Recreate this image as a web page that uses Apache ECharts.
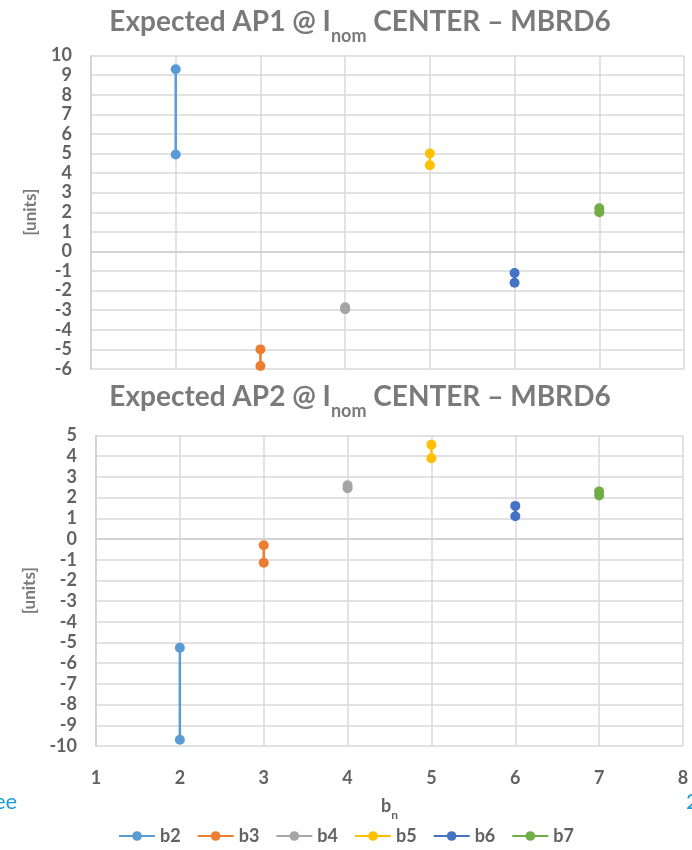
<!DOCTYPE html>
<html><head><meta charset="utf-8">
<script src="https://cdn.jsdelivr.net/npm/echarts@6/dist/echarts.min.js"></script>
<style>html,body{margin:0;padding:0;background:#fff}#c{width:692px;height:850px}</style>
</head><body><div id="c"></div>
<script>
const seriesNames = ['b2','b3','b4','b5','b6','b7'];
const seriesX = [2,3,4,5,6,7];
const colors = ['#5b9bd5','#ed7d31','#a5a5a5','#ffc000','#4472c4','#70ad47'];
// AP1 values (two points per harmonic)
const ap1 = [[9.3,4.95],[-5.0,-5.85],[-2.85,-2.95],[5.0,4.4],[-1.1,-1.6],[2.2,2.0]];
// AP2 values
const ap2 = [[-5.25,-9.7],[-0.3,-1.15],[2.6,2.45],[4.55,3.9],[1.6,1.1],[2.3,2.1]];
const xTicks = [1,2,3,4,5,6,7,8];
const yTicksTop = [-6,10];
const yTicksBottom = [-10,5];

const FONT = 'Lato';
const TXT = '#626262';
const labelStyle = {color:TXT, fontFamily:FONT, fontWeight:'bold', fontSize:18};
const gridLine = {lineStyle:{color:'#d9d9d9', width:1.5}};

function mkSeries(vals, idx){
  return seriesNames.map((n,i)=>({
    name:n, type:'line', xAxisIndex:idx, yAxisIndex:idx,
    data: vals[i].map(v=>[seriesX[i], v]),
    symbol:'circle', symbolSize:10, color:colors[i],
    lineStyle:{width:2.5, color:colors[i]}, itemStyle:{color:colors[i]},
    animation:false
  }));
}
const titleRich = {a:{fontFamily:FONT,fontWeight:'bold',fontSize:28,color:'#7a7a7a',lineHeight:32,verticalAlign:'bottom'},
                   s:{fontFamily:FONT,fontWeight:'bold',fontSize:18,color:'#7a7a7a',lineHeight:32,verticalAlign:'bottom',padding:[0,0,-9,0]}};

const chart = echarts.init(document.getElementById('c'));
chart.setOption({
  backgroundColor:'#fff',
  title:[
    {text:'{a|Expected AP1 @ I}{s|nom}{a| CENTER – MBRD6}', left:355, textAlign:'center', top:-1,
     textStyle:{rich:titleRich}},
    {text:'{a|Expected AP2 @ I}{s|nom}{a| CENTER – MBRD6}', left:355, textAlign:'center', top:374,
     textStyle:{rich:titleRich}}
  ],
  legend:{bottom:0, left:'center', itemWidth:36, itemHeight:12, itemGap:16,
    data:seriesNames, textStyle:{color:TXT,fontFamily:FONT,fontWeight:'bold',fontSize:18}},
  grid:[
    {left:91, right:8, top:55.5, height:313.5},
    {left:96, right:9, top:435.5, height:310.5}
  ],
  xAxis:[
    {type:'value', gridIndex:0, min:xTicks[0], max:xTicks[xTicks.length-1], interval:1,
     axisLabel:{show:false}, axisTick:{show:false}, axisLine:{show:true,lineStyle:{color:'#d0d0d0',width:1.5}}, splitLine:gridLine},
    {type:'value', gridIndex:1, min:xTicks[0], max:xTicks[xTicks.length-1], interval:1,
     axisLabel:Object.assign({margin:23},labelStyle), axisTick:{show:false},
     axisLine:{show:true,lineStyle:{color:'#d0d0d0',width:1.5}}, splitLine:gridLine,
     name:'{b|b}{s|n}', nameLocation:'middle', nameGap:45,
     nameTextStyle:{rich:{b:{fontFamily:FONT,fontWeight:'bold',fontSize:18,color:TXT,lineHeight:24,verticalAlign:'bottom'},
                          s:{fontFamily:FONT,fontWeight:'bold',fontSize:12,color:TXT,lineHeight:24,verticalAlign:'bottom',padding:[0,0,-6,0]}}}}
  ],
  yAxis:[
    {type:'value', gridIndex:0, min:yTicksTop[0], max:yTicksTop[1], interval:1,
     axisLabel:Object.assign({margin:19},labelStyle), axisTick:{show:false},
     axisLine:{show:true,lineStyle:{color:'#d0d0d0',width:1.5}}, splitLine:gridLine,
     name:'[units]', nameLocation:'middle', nameGap:52,
     nameTextStyle:{fontFamily:FONT,fontSize:17,fontWeight:'bold',color:'#7a7a7a'}},
    {type:'value', gridIndex:1, min:yTicksBottom[0], max:yTicksBottom[1], interval:1,
     axisLabel:Object.assign({margin:19},labelStyle), axisTick:{show:false},
     axisLine:{show:true,lineStyle:{color:'#d0d0d0',width:1.5}}, splitLine:gridLine,
     name:'[units]', nameLocation:'middle', nameGap:57,
     nameTextStyle:{fontFamily:FONT,fontSize:17,fontWeight:'bold',color:'#7a7a7a'}}
  ],
  graphic:[
    {type:'text', left:-6, top:791, style:{text:'ee', fill:'#1e9bd7', font:'22px '+FONT}},
    {type:'text', left:686, top:791, style:{text:'2', fill:'#1e9bd7', font:'22px '+FONT}}
  ],
  series: mkSeries(ap1,0).concat(mkSeries(ap2,1))
});
</script></body></html>
